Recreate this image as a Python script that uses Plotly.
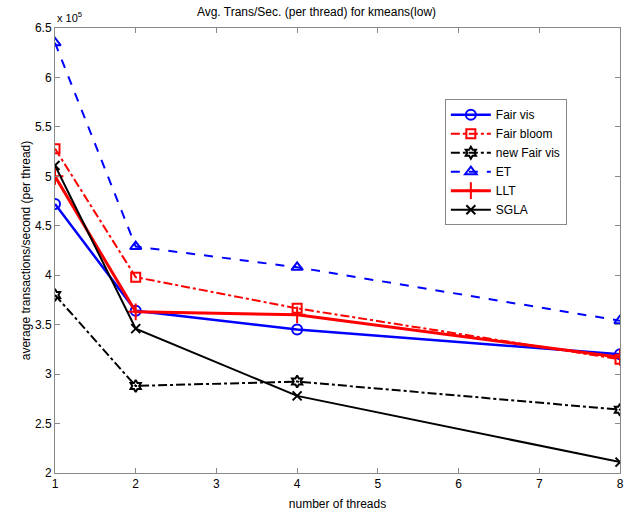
import plotly.graph_objects as go

threads = [1, 2, 4, 8]
fair_vis = [4.72, 3.64, 3.45, 3.20]
fair_bloom = [5.28, 3.98, 3.665, 3.15]
new_fair_vis = [3.80, 2.88, 2.925, 2.64]
et = [6.35, 4.29, 4.08, 3.54]
llt = [5.00, 3.63, 3.60, 3.17]
sgla = [5.11, 3.46, 2.78, 2.11]

x_ticks = [1, 2, 3, 4, 5, 6, 7, 8]
y_ticks = [2, 2.5, 3, 3.5, 4, 4.5, 5, 5.5, 6, 6.5]
y_ticktext = ["2", "2.5", "3", "3.5", "4", "4.5", "5", "5.5", "6", "6.5"]

series = [
    ("Fair vis", fair_vis, "#0000ff", "solid", "circle-open", 10, 2.5),
    ("Fair bloom", fair_bloom, "#ff0000", "dashdot", "square-open", 9, 2),
    ("new Fair vis", new_fair_vis, "#000000", "dashdot", "hexagram-open", 9, 2),
    ("ET", et, "#0000ff", "dash", "triangle-up-open", 10, 2),
    ("LLT", llt, "#ff0000", "solid", "cross-thin-open", 12, 3),
    ("SGLA", sgla, "#000000", "solid", "x-thin-open", 9, 2),
]

fig = go.Figure()
for name, vals, color, dash, sym, size, lw in series:
    fig.add_trace(go.Scatter(
        x=threads, y=vals, name=name, mode="lines+markers",
        line=dict(color=color, dash=dash, width=lw),
        marker=dict(symbol=sym, size=size, color=color,
                    line=dict(color=color, width=2)),
    ))

axis_common = dict(
    showgrid=False, zeroline=False, showline=True, mirror="ticks",
    linecolor="#888888", linewidth=1, ticks="inside", ticklen=5,
    tickcolor="#888888", tickfont=dict(size=12, color="#000000"),
)

fig.update_layout(
    width=633, height=518,
    margin=dict(l=55, r=9, t=28, b=44),
    paper_bgcolor="white", plot_bgcolor="white",
    font=dict(family="Liberation Sans, Arial, sans-serif", size=12, color="#000000"),
    title=dict(text="Avg. Trans/Sec. (per thread) for kmeans(low)",
               x=0.5, xanchor="center", y=0.977, yanchor="middle",
               font=dict(size=12)),
    xaxis=dict(range=[1, 8], tickvals=x_ticks,
               title=dict(text="number of threads", standoff=9, font=dict(size=12)),
               **axis_common),
    yaxis=dict(range=[2, 6.5], tickvals=y_ticks, ticktext=y_ticktext,
               title=dict(text="average transactions/second (per thread)",
                          standoff=1, font=dict(size=12)),
               **axis_common),
    legend=dict(x=0.69, y=0.84, xanchor="left", yanchor="top",
                bgcolor="white", bordercolor="#888888", borderwidth=1,
                font=dict(size=12), tracegroupgap=0, itemwidth=40),
    showlegend=True,
)

fig.add_annotation(
    text="x 10<sup>5</sup>", xref="paper", yref="paper",
    x=0.0, y=1.0, xanchor="left", yanchor="bottom", yshift=2,
    showarrow=False, font=dict(size=11),
)

fig.write_html("out.html")
